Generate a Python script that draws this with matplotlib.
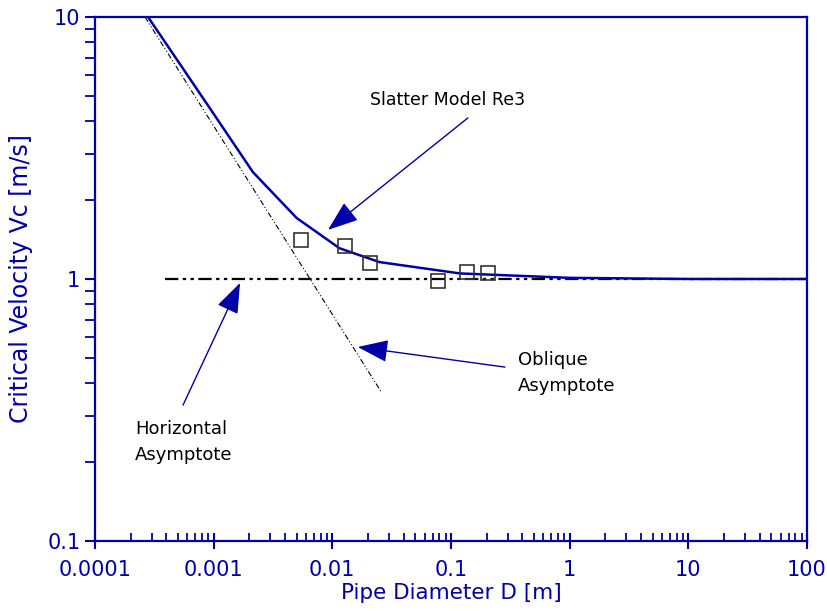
import matplotlib
matplotlib.use("Agg")
import matplotlib.pyplot as plt
from matplotlib.ticker import LogLocator, FixedLocator, FixedFormatter, NullFormatter

# ---- data ----
model_d = [0.00028, 0.001, 0.00214, 0.0050, 0.0115, 0.025, 0.119, 1.0, 10.0, 100.0]
model_v = [10.0, 4.27, 2.56, 1.71, 1.31, 1.16, 1.05, 1.01, 1.0, 1.0]

exp_d = [0.00544, 0.0128, 0.0207, 0.0777, 0.136, 0.205]
exp_v = [1.41, 1.34, 1.15, 0.98, 1.06, 1.05]

obl_d = [0.000264, 0.0262]
obl_v = [10.0, 0.367]

hor_d = [0.00039, 100.0]
hor_v = [1.0, 1.0]

xticks = [0.0001, 0.001, 0.01, 0.1, 1, 10, 100]
xlabels = ['0.0001', '0.001', '0.01', '0.1', '1', '10', '100']
yticks = [0.1, 1, 10]
ylabels = ['0.1', '1', '10']

blue = '#0000AA'

fig = plt.figure(figsize=(8.28, 6.11), dpi=100)
ax = fig.add_axes([0.1147, 0.1146, 0.8599, 0.8576])

ax.plot(hor_d, hor_v, color='black', lw=1.6, dashes=(6, 2, 1.5, 2, 1.5, 2))
ax.plot(obl_d, obl_v, color='black', lw=0.8, dashes=(5, 2, 1, 2, 1, 2))
ax.plot(model_d, model_v, color=blue, lw=1.8)
ax.plot(exp_d, exp_v, ls='none', marker='s', ms=10, mfc='none', mec='#333333', mew=1.2)

ax.set_xscale('log')
ax.set_yscale('log')
ax.set_xlim(0.0001, 100)
ax.set_ylim(0.1, 10)

ax.xaxis.set_major_locator(FixedLocator(xticks))
ax.xaxis.set_major_formatter(FixedFormatter(xlabels))
ax.yaxis.set_major_locator(FixedLocator(yticks))
ax.yaxis.set_major_formatter(FixedFormatter(ylabels))
ax.xaxis.set_minor_locator(LogLocator(base=10, subs=range(2, 10), numticks=20))
ax.yaxis.set_minor_locator(LogLocator(base=10, subs=range(2, 10), numticks=20))
ax.xaxis.set_minor_formatter(NullFormatter())
ax.yaxis.set_minor_formatter(NullFormatter())

ax.tick_params(axis='x', which='major', direction='inout', length=12, width=1.5, colors=blue, labelsize=15, pad=8)
ax.tick_params(axis='x', which='minor', direction='in', length=6, width=1.3, colors=blue)
ax.tick_params(axis='y', which='major', direction='out', length=7, width=1.5, colors=blue, labelsize=15)
ax.tick_params(axis='y', which='minor', direction='out', length=7, width=1.3, colors=blue)
for s in ax.spines.values():
    s.set_color(blue)
    s.set_linewidth(1.6)

ax.set_xlabel('Pipe Diameter D [m]', color=blue, fontsize=15.5, labelpad=2)
ax.set_ylabel('Critical Velocity Vc [m/s]', color=blue, fontsize=17, labelpad=10)

arrow = dict(arrowstyle='-|>,head_length=1.9,head_width=0.7', color=blue, lw=1.0, shrinkA=0, shrinkB=0)
ax.text(0.0207, 4.82, 'Slatter Model Re3', fontsize=12.5, color='black', ha='left', va='center')
ax.annotate('', xy=(0.0092, 1.54), xytext=(0.139, 4.12), arrowprops=arrow)
ax.text(0.367, 0.437, 'Oblique\nAsymptote', fontsize=13, color='black',
        ha='left', va='center', linespacing=1.6)
ax.annotate('', xy=(0.0164, 0.55), xytext=(0.285, 0.461), arrowprops=arrow)
ax.text(0.000217, 0.239, 'Horizontal\nAsymptote', fontsize=13, color='black',
        ha='left', va='center', linespacing=1.6)
ax.annotate('', xy=(0.00167, 0.966), xytext=(0.000552, 0.33), arrowprops=arrow)

fig.savefig('out.png', dpi=100)
